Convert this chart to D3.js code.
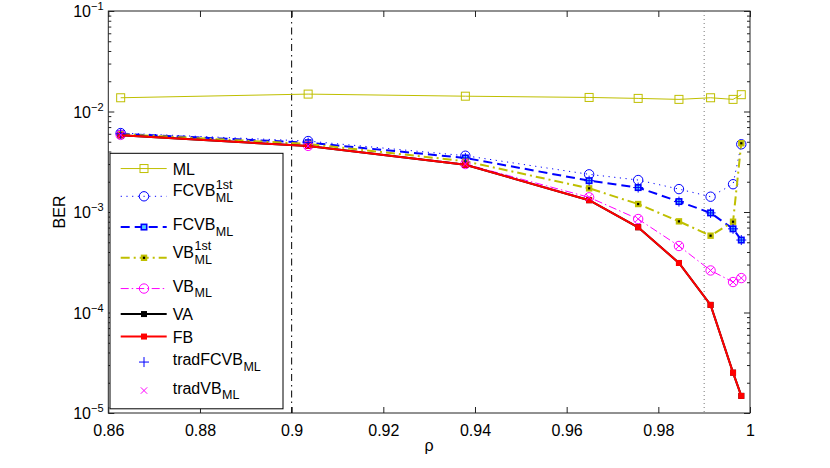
<!DOCTYPE html>
<html>
<head>
<meta charset="utf-8">
<script src="https://cdn.jsdelivr.net/npm/d3@7"></script>
<style>
  body { margin: 0; background: #fff; }
  svg { font-family: "Liberation Sans", Arial, Helvetica, sans-serif; }
</style>
</head>
<body>
<div id="chart"></div>
<script>
// data
const rho = [0.8627, 0.9036, 0.9379, 0.9649, 0.9756, 0.9845, 0.9914, 0.9963, 0.9981]
const berML = [0.0137, 0.0149, 0.0142, 0.0138, 0.0135, 0.0132, 0.0137, 0.0132, 0.0147]
const berFCVB1st = [6.1e-3, 5.08e-3, 3.63e-3, 2.37e-3, 2.08e-3, 1.69e-3, 1.42e-3, 1.89e-3, 4.72e-3]
const berFCVBML = [6.0e-3, 4.9e-3, 3.45e-3, 2.05e-3, 1.75e-3, 1.27e-3, 9.8e-4, 6.8e-4, 5.26e-4]
const berVB1st = [5.95e-3, 4.75e-3, 3.2e-3, 1.72e-3, 1.2e-3, 8.07e-4, 5.81e-4, 8.0e-4, 4.83e-3]
const berVBML = [5.85e-3, 4.55e-3, 3.0e-3, 1.40e-3, 8.51e-4, 4.59e-4, 2.62e-4, 2.01e-4, 2.2e-4]
const berVA = [5.8e-3, 4.54e-3, 2.95e-3, 1.31e-3, 7.05e-4, 3.11e-4, 1.19e-4, 2.52e-5, 1.48e-5]
const berFB = [5.8e-3, 4.54e-3, 2.95e-3, 1.31e-3, 7.05e-4, 3.11e-4, 1.19e-4, 2.52e-5, 1.48e-5]
const berTradFCVB = berFCVBML
const berTradVB = berVBML
const xTicks = [0.86, 0.88, 0.9, 0.92, 0.94, 0.96, 0.98, 1]
const xTickLabels = ["0.86", "0.88", "0.9", "0.92", "0.94", "0.96", "0.98", "1"]
const yExponents = [-1, -2, -3, -4, -5]
const refLines = [0.9, 0.99]
// legend: [main, superscript, subscript]
const legendLabels = [
  ["ML", "", ""],
  ["FCVB", "1st", "ML"],
  ["FCVB", "", "ML"],
  ["VB", "1st", "ML"],
  ["VB", "", "ML"],
  ["VA", "", ""],
  ["FB", "", ""],
  ["tradFCVB", "", "ML"],
  ["tradVB", "", "ML"]
]

const W = 830, H = 468
const svg = d3.select("#chart").append("svg")
  .attr("width", W).attr("height", H)

const pLeft = 108.3, pRight = 750, pTop = 11, pBottom = 413
const x = d3.scaleLinear().domain([0.86, 1]).range([pLeft, pRight])
const y = d3.scaleLog().domain([1e-5, 1e-1]).range([pBottom, pTop])

const olive = "#bfbf00", blue = "#0000ff", magenta = "#ff00ff", red = "#ff0000"

// series styles
const series = [
  {v: berML, color: olive, width: 1, dash: null, marker: "sqOpen", line: true},
  {v: berFCVB1st, color: blue, width: 1, dash: "1.2,4.5", marker: "circle", line: true},
  {v: berFCVBML, color: blue, width: 2, dash: "9,5", marker: "sqBlue", line: true},
  {v: berVB1st, color: olive, width: 2, dash: "9,4,2,4", marker: "sqOlive", line: true},
  {v: berVBML, color: magenta, width: 1, dash: "8,3,1.5,3", marker: "circle", line: true},
  {v: berVA, color: "#000", width: 2, dash: null, marker: "sqFill", line: true},
  {v: berFB, color: red, width: 2, dash: null, marker: "sqFill", line: true},
  {v: berTradFCVB, color: blue, width: 1, dash: null, marker: "plus", line: false},
  {v: berTradVB, color: magenta, width: 1, dash: null, marker: "cross", line: false}
]

function draw_marker(g, type, cx, cy, color){
  if (type == "sqOpen"){
    g.append("rect").attr("x", cx-4).attr("y", cy-4).attr("width", 8).attr("height", 8)
      .attr("fill", "none").attr("stroke", color).attr("stroke-width", 1)
  } else if (type == "circle"){
    g.append("circle").attr("cx", cx).attr("cy", cy).attr("r", 4.7)
      .attr("fill", "none").attr("stroke", color).attr("stroke-width", 1)
  } else if (type == "sqBlue"){
    g.append("rect").attr("x", cx-2.7).attr("y", cy-2.7).attr("width", 5.4).attr("height", 5.4)
      .attr("fill", "#55ccff").attr("stroke", color).attr("stroke-width", 1.6)
  } else if (type == "sqOlive"){
    g.append("rect").attr("x", cx-3.2).attr("y", cy-3.2).attr("width", 6.4).attr("height", 6.4)
      .attr("fill", color)
    g.append("rect").attr("x", cx-1.1).attr("y", cy-1.1).attr("width", 2.2).attr("height", 2.2)
      .attr("fill", "#000")
  } else if (type == "sqFill"){
    g.append("rect").attr("x", cx-3).attr("y", cy-3).attr("width", 6).attr("height", 6)
      .attr("fill", color)
  } else if (type == "plus"){
    g.append("path").attr("d", `M${cx-5},${cy}H${cx+5}M${cx},${cy-5}V${cy+5}`)
      .attr("stroke", color).attr("stroke-width", 1).attr("fill", "none")
  } else if (type == "cross"){
    g.append("path").attr("d", `M${cx-3.2},${cy-3.2}L${cx+3.2},${cy+3.2}M${cx-3.2},${cy+3.2}L${cx+3.2},${cy-3.2}`)
      .attr("stroke", color).attr("stroke-width", 1).attr("fill", "none")
  }
}

// axes frame with inward ticks
const axG = svg.append("g")
axG.append("g").attr("transform", `translate(0,${pBottom})`)
  .call(d3.axisBottom(x).tickValues(xTicks).tickFormat((d, i) => xTickLabels[i]).tickSizeInner(-6).tickSizeOuter(0).tickPadding(12))
axG.append("g").attr("transform", `translate(0,${pTop})`)
  .call(d3.axisTop(x).tickValues(xTicks).tickFormat("").tickSizeInner(-6).tickSizeOuter(0))

const minor = []
yExponents.slice(0, 4).forEach(e => { for (let k = 2; k <= 9; k++) minor.push(k * Math.pow(10, e - 1)) })
const majors = yExponents.map(e => Math.pow(10, e))
axG.append("g").attr("transform", `translate(${pLeft},0)`)
  .call(d3.axisLeft(y).tickValues(majors).tickFormat("").tickSizeInner(-6).tickSizeOuter(0))
axG.append("g").attr("transform", `translate(${pLeft},0)`)
  .call(d3.axisLeft(y).tickValues(minor).tickFormat("").tickSizeInner(-3).tickSizeOuter(0))
axG.append("g").attr("transform", `translate(${pRight},0)`)
  .call(d3.axisRight(y).tickValues(majors).tickFormat("").tickSizeInner(-6).tickSizeOuter(0))
axG.append("g").attr("transform", `translate(${pRight},0)`)
  .call(d3.axisRight(y).tickValues(minor).tickFormat("").tickSizeInner(-3).tickSizeOuter(0))
axG.selectAll(".domain").remove()
axG.selectAll("line").attr("stroke", "#222")
axG.selectAll("text").attr("fill", "#000").attr("font-size", 16)
  .attr("font-family", "Liberation Sans, Arial, sans-serif")

svg.append("rect").attr("x", pLeft).attr("y", pTop).attr("width", pRight-pLeft).attr("height", pBottom-pTop)
  .attr("fill", "none").attr("stroke", "#222").attr("stroke-width", 1)

// y tick labels 10^e
yExponents.forEach(e => {
  const t = svg.append("text").attr("x", 103.5).attr("y", y(Math.pow(10, e)) + 6)
    .attr("text-anchor", "end").attr("font-size", 16)
  t.append("tspan").text("10")
  t.append("tspan").attr("font-size", 11).attr("dy", -7).text("\u2212" + (-e))
})

svg.append("text").attr("x", (pLeft+pRight)/2).attr("y", 451).attr("text-anchor", "middle")
  .attr("font-size", 16).text("\u03c1")
svg.append("text").attr("transform", `translate(65,${(pTop+pBottom)/2}) rotate(-90)`)
  .attr("text-anchor", "middle").attr("font-size", 16).text("BER")

// reference lines
svg.append("line").attr("x1", x(refLines[0])).attr("x2", x(refLines[0])).attr("y1", pTop).attr("y2", pBottom)
  .attr("stroke", "#000").attr("stroke-width", 1).attr("stroke-dasharray", "7,4,1.5,4")
svg.append("line").attr("x1", x(refLines[1])).attr("x2", x(refLines[1])).attr("y1", pTop).attr("y2", pBottom)
  .attr("stroke", "#777").attr("stroke-width", 1).attr("stroke-dasharray", "1,3")

// series
const line = d3.line().x((d, i) => x(rho[i])).y(d => y(d))
const plotG = svg.append("g")
series.forEach(s => {
  const g = plotG.append("g")
  if (s.line) {
    g.append("path").attr("d", line(s.v)).attr("fill", "none")
      .attr("stroke", s.color).attr("stroke-width", s.width)
      .attr("stroke-dasharray", s.dash)
  }
  s.v.forEach((d, i) => draw_marker(g, s.marker, x(rho[i]), y(d), s.color))
})

// legend
const rowH = lab => lab[1] ? 33 : (lab[2] ? 28.5 : 22.5)
const legX = 110, legY = 153.3, legW = 173, pad = 4
let total = d3.sum(legendLabels, rowH)
const legG = svg.append("g")
legG.append("rect").attr("x", legX).attr("y", legY).attr("width", legW).attr("height", total + 2*pad)
  .attr("fill", "#fff").attr("stroke", "#000").attr("stroke-width", 1)
let cy = legY + pad
legendLabels.forEach((lab, i) => {
  const h = rowH(lab)
  const yc = cy + h/2
  cy += h
  const s = series[i]
  const g = legG.append("g")
  if (s.line) {
    g.append("line").attr("x1", 120.7).attr("x2", 166.7).attr("y1", yc).attr("y2", yc)
      .attr("stroke", s.color).attr("stroke-width", s.width).attr("stroke-dasharray", s.dash)
  }
  draw_marker(g, s.marker, 144, yc, s.color)
  const base = lab[1] ? yc + 0 : (lab[2] ? yc + 3 : yc + 6)
  const t = g.append("text").attr("x", 172.7).attr("y", base).attr("font-size", 16).text(lab[0])
  const w = t.node().getComputedTextLength()
  if (lab[1]) g.append("text").attr("x", 172.7 + w + 0.5).attr("y", base - 7.7).attr("font-size", 12.5).text(lab[1])
  if (lab[2]) g.append("text").attr("x", 172.7 + w + 0.5).attr("y", base + 5.8).attr("font-size", 12.5).text(lab[2])
})
</script>
</body>
</html>
